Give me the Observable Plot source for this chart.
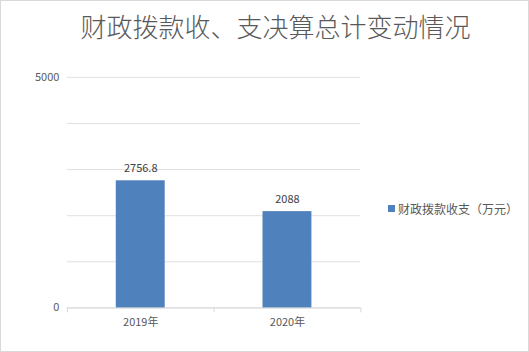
<!DOCTYPE html>
<html><head><meta charset="utf-8">
<script src="https://cdn.jsdelivr.net/npm/d3@7"></script>
<script src="https://cdn.jsdelivr.net/npm/@observablehq/plot@0.6"></script>
<style>
html,body{margin:0;padding:0;background:#fff;}
#wrap{position:relative;width:527px;height:350px;border:1px solid #d9d9d9;overflow:hidden;font-family:"Noto Sans CJK SC","Microsoft YaHei",sans-serif;}
#title{position:absolute;left:0;top:6px;width:100%;text-align:center;font-size:26px;color:#595959;font-weight:300;letter-spacing:0px;padding-left:22px;box-sizing:border-box;}
#legend{position:absolute;left:387px;top:199px;font-size:12px;color:#595959;display:flex;align-items:center;}
#legend span.sw{display:inline-block;width:7px;height:7px;background:#4f81bd;margin-right:3px;}
#chart{position:absolute;left:-1px;top:-1px;}
</style></head>
<body>
<div id="wrap">
<div id="chart"></div>
<div id="title">财政拨款收、支决算总计变动情况</div>
<div id="legend"><span class="sw"></span><span id="legtext"></span></div>
</div>
<script>
const categories = ["2019年", "2020年"];
const values = [2756.8, 2088];
const seriesName = "财政拨款收支（万元）";
const yTickLabels = [0, 5000];
const gridValues = [0, 1000, 2000, 3000, 4000, 5000];

const data = categories.map((c, i) => ({cat: c, v: values[i]}));
document.getElementById("legtext").textContent = seriesName;

const font = "'Noto Sans CJK SC', sans-serif";
const half = 73.5;
const chart = Plot.plot({
  width: 529, height: 352,
  marginTop: 77, marginBottom: 44, marginLeft: 67, marginRight: 168,
  style: {fontFamily: font, fontSize: "11px", color: "#595959", background: "transparent"},
  x: {domain: categories, paddingInner: 0.667, paddingOuter: 0.333, label: null, tickSize: 0, tickPadding: 10},
  y: {domain: [0, 5000], label: null, ticks: yTickLabels, tickFormat: d => String(d), tickSize: 0, tickPadding: 8},
  marks: [
    Plot.ruleY(gridValues, {stroke: "#e0e0e0", strokeWidth: 1}),
    Plot.ruleY([0], {stroke: "#d9d9d9", strokeWidth: 1}),
    Plot.ruleX(categories, {x: d => d, y1: 0, y2: 0, dx: -half, insetBottom: -5, stroke: "#d9d9d9"}),
    Plot.ruleX(categories.slice(-1), {x: d => d, y1: 0, y2: 0, dx: half, insetBottom: -5, stroke: "#d9d9d9"}),
    Plot.barY(data, {x: "cat", y: "v", fill: "#4f81bd"}),
    Plot.text(data, {x: "cat", y: "v", text: d => String(d.v), dy: -12, fill: "#404040", fontSize: 11})
  ]
});
document.getElementById("chart").appendChild(chart);
</script>
</body></html>
